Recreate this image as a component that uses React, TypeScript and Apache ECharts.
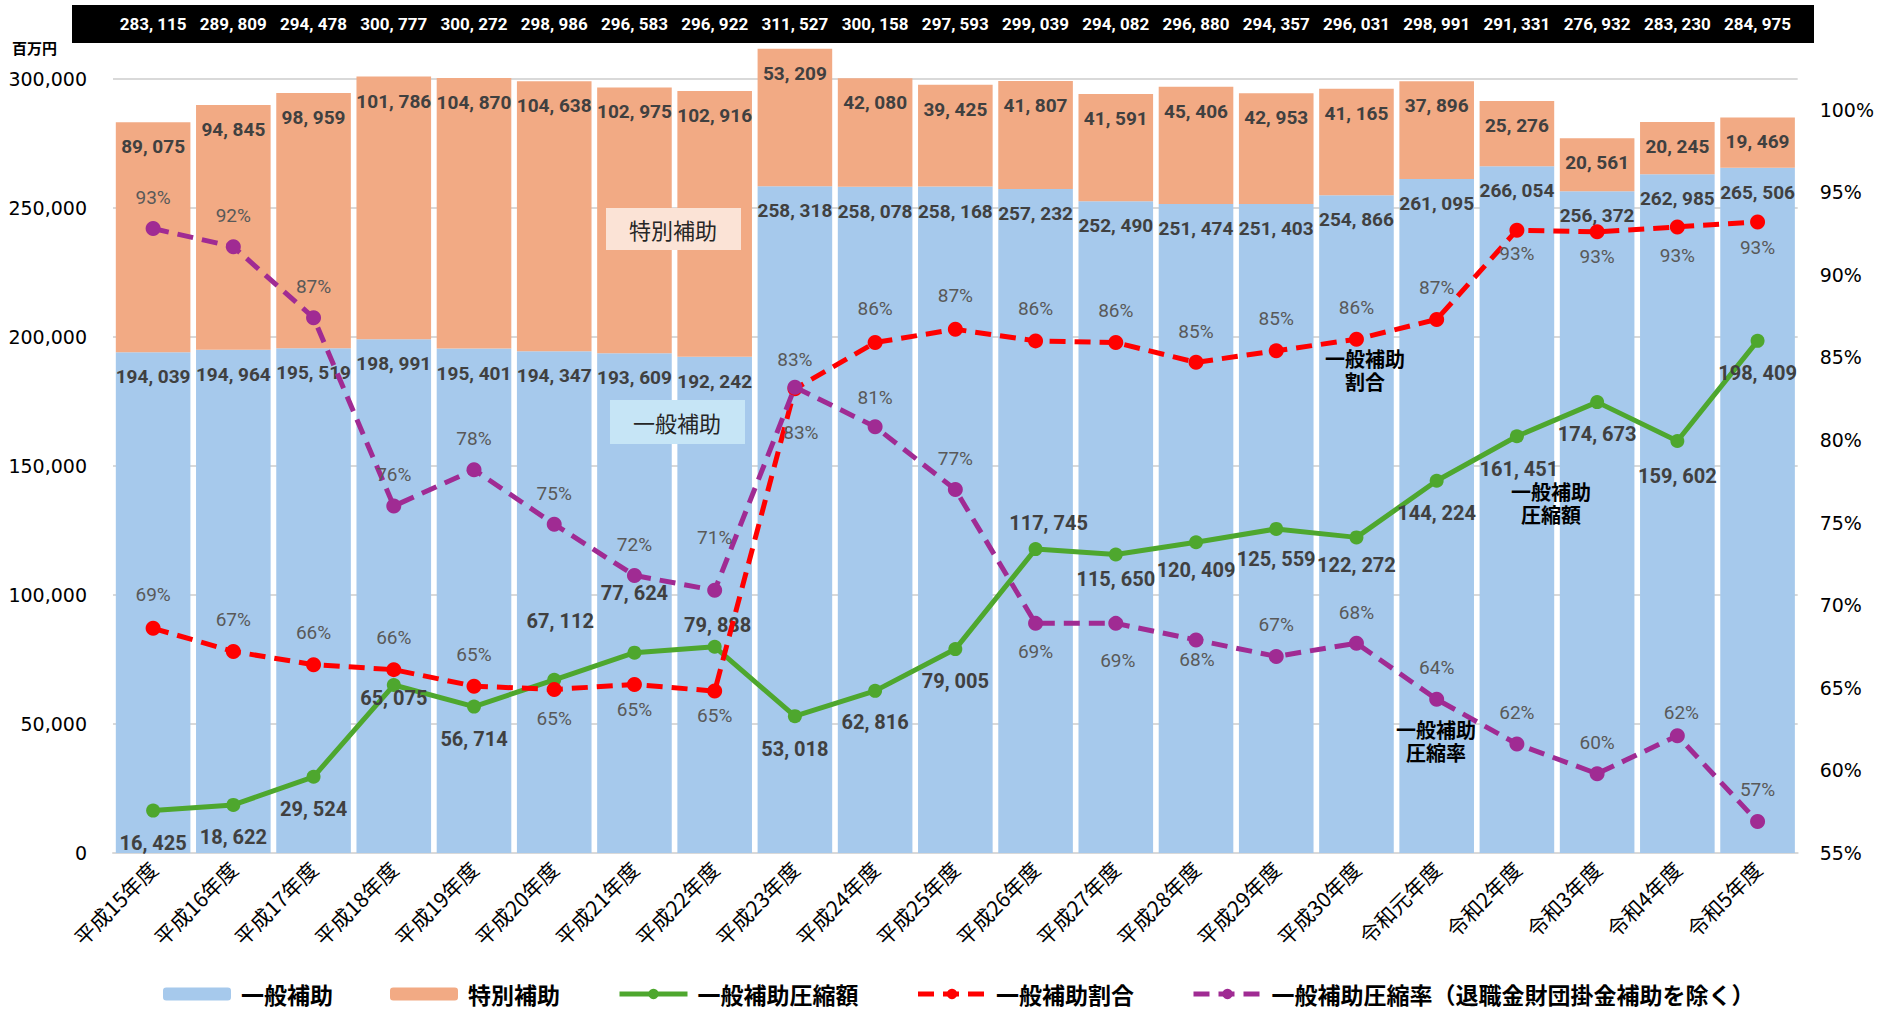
import React, { useEffect, useRef } from 'react';
import * as echarts from 'echarts';

const categories = [
  '平成15年度', '平成16年度', '平成17年度', '平成18年度', '平成19年度', '平成20年度', '平成21年度',
  '平成22年度', '平成23年度', '平成24年度', '平成25年度', '平成26年度', '平成27年度', '平成28年度',
  '平成29年度', '平成30年度', '令和元年度', '令和2年度', '令和3年度', '令和4年度', '令和5年度',
];
const generalSubsidy = [
  194039, 194964, 195519, 198991, 195401, 194347, 193609, 192242, 258318, 258078, 258168,
  257232, 252490, 251474, 251403, 254866, 261095, 266054, 256372, 262985, 265506,
];
const specialSubsidy = [
  89075, 94845, 98959, 101786, 104870, 104638, 102975, 102916, 53209, 42080, 39425,
  41807, 41591, 45406, 42953, 41165, 37896, 25276, 20561, 20245, 19469,
];
const totals = [
  283115, 289809, 294478, 300777, 300272, 298986, 296583, 296922, 311527, 300158, 297593,
  299039, 294082, 296880, 294357, 296031, 298991, 291331, 276932, 283230, 284975,
];
const compressionAmount = [
  16425, 18622, 29524, 65075, 56714, 67112, 77624, 79888, 53018, 62816, 79005,
  117745, 115650, 120409, 125559, 122272, 144224, 161451, 174673, 159602, 198409,
];
const generalRatio = [
  68.6, 67.2, 66.4, 66.1, 65.1, 64.9, 65.2, 64.8, 83.1, 85.9, 86.7,
  86.0, 85.9, 84.7, 85.4, 86.1, 87.3, 92.7, 92.6, 92.9, 93.2,
];
const compressionRate = [
  92.8, 91.7, 87.4, 76.0, 78.2, 74.9, 71.8, 70.9, 83.2, 80.8, 77.0,
  68.9, 68.9, 67.9, 66.9, 67.7, 64.3, 61.6, 59.8, 62.1, 56.9,
];
const leftAxisTicks = { min: 0, max: 320000, interval: 50000 };
const rightAxisTicks = { min: 55, max: 105, interval: 5 };

// label placement (style only)
const greenLabelDy = [32, 32, 32, 13, 32, -59, -60, -22, 33, 31, 32, -26, 25, 28, 30, 28, 32, 33, 32, 35, 32];
const greenLabelDx = [0, 0, 0, 0, 0, 6, 0, 3, 0, 0, 0, 13, 0, 0, 0, 0, 0, 2, 0, 0, 0];
const redLabelDy = [-34, -32, -32, -32, -32, 29, 25, 24, 44, -34, -34, -32, -32, -31, -32, -32, -32, 23, 25, 29, 26];
const redLabelDx = [0, 0, 0, 0, 0, 0, 0, 0, 6, 0, 0, 0, 0, 0, 0, 0, 0, 0, 0, 0, 0];
const purpleLabelDy = [-31, -31, -31, -32, -31, -31, -31, -53, -28, -29, -31, 28, 37, 20, -32, -31, -32, -31, -31, -23, -32];
const purpleLabelDx = [0, 0, 0, 0, 0, 0, 0, 0, 0, 0, 0, 0, 2, 1, 0, 0, 0, 0, 0, 4, 0];

const BLUE = '#A6C9EC';
const ORANGE = '#F2AA84';
const GREEN = '#4EA72E';
const RED = '#FF0000';
const PURPLE = '#A02B93';

const NARROW = 'Roboto, "Liberation Sans", sans-serif';
const JP = '"Noto Sans CJK JP", "Noto Sans JP", sans-serif';
const AXISF = '"DejaVu Sans", "Liberation Sans", sans-serif';

const fmtSpaced = (n: number) => n.toLocaleString('en-US').replace(/,/g, ', ');

export default function App() {
  const ref = useRef<HTMLDivElement>(null);
  useEffect(() => {
    document.body.style.margin = '0';
    if (!ref.current) return;
    const chart = echarts.init(ref.current, null, { renderer: 'svg' });

    const lineLabelBase = {
      show: true,
      position: 'inside',
      fontFamily: NARROW,
      fontSize: 19,
      color: '#595959',
    };

    const option: any = {
      animation: false,
      backgroundColor: '#ffffff',
      grid: { left: 113, right: 71, top: 27, bottom: 157, containLabel: false },
      legend: {
        top: 981,
        left: 163,
        padding: 0,
        itemWidth: 68,
        itemHeight: 13,
        itemGap: 57,
        lineStyle: { width: 5 },
        textStyle: { fontFamily: JP, fontSize: 23, lineHeight: 26, fontWeight: 'bold', color: '#000', padding: [0, 0, 0, 5] },
        data: ['一般補助', '特別補助', '一般補助圧縮額', '一般補助割合', '一般補助圧縮率（退職金財団掛金補助を除く）'],
      },
      xAxis: [
        {
          type: 'category',
          data: categories,
          axisLine: { show: true, lineStyle: { color: '#d9d9d9', width: 2 } },
          axisTick: { show: false },
          axisLabel: {
            rotate: 45,
            margin: 12,
            interval: 0,
            fontFamily: JP,
            fontSize: 21,
            color: '#000',
          },
        },
        {
          type: 'category',
          position: 'top',
          data: categories,
          z: 50,
          axisLine: { show: false },
          axisTick: { show: false },
          axisLabel: {
            interval: 0,
            margin: 3,
            verticalAlign: 'middle',
            formatter: (_v: string, i: number) => fmtSpaced(totals[i]),
            fontFamily: NARROW,
            fontSize: 17,
            fontWeight: 'bold',
            color: '#ffffff',
          },
        },
      ],
      yAxis: [
        {
          type: 'value',
          min: leftAxisTicks.min,
          max: leftAxisTicks.max,
          interval: leftAxisTicks.interval,
          axisLine: { show: false },
          axisTick: { show: false },
          splitLine: { show: true, lineStyle: { color: '#d9d9d9', width: 2 } },
          axisLabel: {
            showMaxLabel: false,
            margin: 26,
            fontFamily: AXISF,
            fontSize: 19,
            color: '#000',
            formatter: (v: number) => v.toLocaleString('en-US'),
          },
        },
        {
          type: 'value',
          min: rightAxisTicks.min,
          max: rightAxisTicks.max,
          interval: rightAxisTicks.interval,
          axisLine: { show: false },
          axisTick: { show: false },
          splitLine: { show: false },
          axisLabel: {
            showMaxLabel: false,
            margin: 22,
            fontFamily: AXISF,
            fontSize: 19,
            color: '#000',
            formatter: (v: number) => `${v}%`,
          },
        },
      ],
      graphic: [
        { type: 'rect', z: 8, shape: { x: 72, y: 5, width: 1742, height: 38 }, style: { fill: '#000' } },
        { type: 'text', left: 12, top: 40, style: { text: '百万円', font: `bold 15px ${JP}`, fill: '#000' } },
        { type: 'rect', z: 20, shape: { x: 606, y: 208, width: 135, height: 42 }, style: { fill: '#FBE3D6' } },
        { type: 'text', z: 21, x: 673, y: 229, style: { text: '特別補助', font: `22px ${JP}`, fill: '#262626', align: 'center', verticalAlign: 'middle' } },
        { type: 'rect', z: 20, shape: { x: 610, y: 400, width: 135, height: 44 }, style: { fill: '#C6E5F6' } },
        { type: 'text', z: 21, x: 677, y: 422, style: { text: '一般補助', font: `22px ${JP}`, fill: '#262626', align: 'center', verticalAlign: 'middle' } },
        { type: 'text', z: 21, x: 1365, y: 370, style: { text: '一般補助\n割合', font: `bold 20px ${JP}`, lineHeight: 23, fill: '#000', align: 'center', verticalAlign: 'middle' } },
        { type: 'text', z: 21, x: 1551, y: 503, style: { text: '一般補助\n圧縮額', font: `bold 20px ${JP}`, lineHeight: 23, fill: '#000', align: 'center', verticalAlign: 'middle' } },
        { type: 'text', z: 21, x: 1436, y: 741, style: { text: '一般補助\n圧縮率', font: `bold 20px ${JP}`, lineHeight: 23, fill: '#000', align: 'center', verticalAlign: 'middle' } },
      ],
      series: [
        {
          name: '一般補助',
          type: 'bar',
          stack: 'total',
          data: generalSubsidy,
          barCategoryGap: '7%',
          itemStyle: { color: BLUE },
          label: {
            show: true, position: 'insideTop', distance: 15,
            formatter: (p: any) => fmtSpaced(p.value),
            fontFamily: NARROW, fontSize: 19, fontWeight: 'bold', color: '#404040',
          },
        },
        {
          name: '特別補助',
          type: 'bar',
          stack: 'total',
          data: specialSubsidy,
          barCategoryGap: '7%',
          itemStyle: { color: ORANGE },
          label: {
            show: true, position: 'insideTop', distance: 15,
            formatter: (p: any) => fmtSpaced(p.value),
            fontFamily: NARROW, fontSize: 19, fontWeight: 'bold', color: '#404040',
          },
        },
        {
          name: '一般補助圧縮額',
          type: 'line',
          z: 5,
          data: compressionAmount.map((v, i) => ({ value: v, label: { offset: [greenLabelDx[i], greenLabelDy[i]] } })),
          symbol: 'circle',
          symbolSize: 14,
          lineStyle: { color: GREEN, width: 5 },
          itemStyle: { color: GREEN },
          label: {
            ...lineLabelBase,
            fontSize: 20, fontWeight: 'bold', color: '#404040',
            formatter: (p: any) => fmtSpaced(p.value),
          },
        },
        {
          name: '一般補助割合',
          type: 'line',
          z: 6,
          yAxisIndex: 1,
          data: generalRatio.map((v, i) => ({ value: v, label: { offset: [redLabelDx[i], redLabelDy[i]] } })),
          symbol: 'circle',
          symbolSize: 15,
          lineStyle: { color: RED, width: 5, type: [16, 9] },
          itemStyle: { color: RED },
          label: { ...lineLabelBase, formatter: (p: any) => `${Math.round(p.value)}%` },
        },
        {
          name: '一般補助圧縮率（退職金財団掛金補助を除く）',
          type: 'line',
          z: 7,
          yAxisIndex: 1,
          data: compressionRate.map((v, i) => ({ value: v, label: { offset: [purpleLabelDx[i], purpleLabelDy[i]] } })),
          symbol: 'circle',
          symbolSize: 15,
          lineStyle: { color: PURPLE, width: 5, type: [16, 9] },
          itemStyle: { color: PURPLE },
          label: { ...lineLabelBase, formatter: (p: any) => `${Math.round(p.value)}%` },
        },
      ],
    };
    chart.setOption(option);
    return () => chart.dispose();
  }, []);
  return <div ref={ref} style={{ width: 1877, height: 1010 }} />;
}
